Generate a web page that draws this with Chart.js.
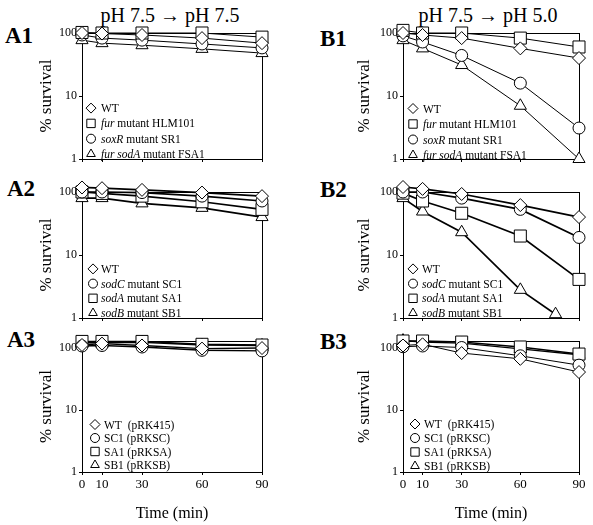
<!DOCTYPE html>
<html>
<head>
<meta charset="utf-8">
<script src="https://cdn.jsdelivr.net/npm/chart.js@4.4.1/dist/chart.umd.min.js"></script>
<style>
  body { margin: 0; background: #fff; }
  #fig { position: relative; width: 593px; height: 525px; font-family: "Liberation Serif", serif; color: #000; overflow: hidden; }
  canvas { position: absolute; }
  .lab { position: absolute; font-weight: bold; font-size: 23px; line-height: 1; }
  .ttl { position: absolute; font-size: 20px; line-height: 1; transform: translateX(-50%); white-space: nowrap; }
</style>
</head>
<body>
<div id="fig">
  <div class="ttl" style="left:170px; top:5px">pH 7.5 → pH 7.5</div>
  <div class="ttl" style="left:488px; top:5px">pH 7.5 → pH 5.0</div>
  <div class="lab" style="left:5px; top:24px">A1</div>
  <div class="lab" style="left:320px; top:27px">B1</div>
  <div class="lab" style="left:7px; top:177px">A2</div>
  <div class="lab" style="left:320px; top:178px">B2</div>
  <div class="lab" style="left:7px; top:328px">A3</div>
  <div class="lab" style="left:320px; top:330px">B3</div>
  <canvas id="a1"></canvas>
  <canvas id="b1"></canvas>
  <canvas id="a2"></canvas>
  <canvas id="b2"></canvas>
  <canvas id="a3"></canvas>
  <canvas id="b3"></canvas>
</div>
<script>
// sampling times (min) and axis ticks
const times = [0, 10, 30, 60, 90];
const timeTicks = [0, 10, 30, 60, 90];
const survivalTicks = [1, 10, 100];

// A1 : pH 7.5 -> 7.5
const a1WT = [100, 98, 93, 83, 69];
const a1Fur = [102, 100, 100, 100, 86];
const a1SoxR = [93, 83, 77, 67, 58];
const a1FurSodA = [77, 69, 64, 56, 48];
// B1 : pH 7.5 -> 5.0
const b1WT = [100, 93, 83, 57, 40];
const b1Fur = [110, 100, 100, 83, 60];
const b1SoxR = [90, 72, 44, 16, 3.1];
const b1FurSodA = [77, 57, 31, 7, 1];

// A2
const a2WT = [118, 115, 108, 98, 86];
const a2SodC = [100, 100, 98, 86, 72];
const a2SodA = [100, 95, 86, 70, 53];
const a2SodB = [80, 80, 66, 56, 40];
// B2
const b2WT = [120, 112, 93, 62, 40];
const b2SodC = [100, 100, 80, 53, 19];
const b2SodA = [96, 72, 46, 20, 4.1];
const b2SodBTimes = [0, 10, 30, 60, 78, 90];
const b2SodB = [80, 49, 23, 2.8, 1.15, 0.63];

// A3 (complemented strains)
const a3WT = [112, 118, 110, 98, 100];
const a3SC1 = [108, 110, 104, 92, 90];
const a3SA1 = [128, 128, 128, 115, 112];
const a3SB1 = [122, 122, 124, 112, 110];
// B3
const b3WT = [110, 115, 83, 67, 41];
const b3SC1 = [105, 108, 102, 75, 53];
const b3SA1 = [130, 130, 125, 104, 80];
const b3SB1 = [132, 125, 120, 97, 78];

// legend texts, [text, italic]
const legend1 = [
  [['WT', false]],
  [['fur', true], [' mutant HLM101', false]],
  [['soxR', true], [' mutant SR1', false]],
  [['fur sodA', true], [' mutant FSA1', false]]
];
const legend2 = [
  [['WT', false]],
  [['sodC', true], [' mutant SC1', false]],
  [['sodA', true], [' mutant SA1', false]],
  [['sodB', true], [' mutant SB1', false]]
];
const legend3 = [
  [['WT  (pRK415)', false]],
  [['SC1 (pRKSC)', false]],
  [['SA1 (pRKSA)', false]],
  [['SB1 (pRKSB)', false]]
];

const FONT = "'Liberation Serif', serif";
const radius = { circle: 6, rect: 8.5, rectRot: 6.5, triangle: 7 };
const legRadius = { circle: 4.5, rect: 4.2, rectRot: 5, triangle: 5 };

function drawShape(ctx, kind, x, y, r) {
  ctx.beginPath();
  if (kind === 'circle') {
    ctx.arc(x, y, r, 0, Math.PI * 2);
  } else if (kind === 'rect') {
    ctx.rect(x - r, y - r, 2 * r, 2 * r);
  } else if (kind === 'rectRot') {
    ctx.moveTo(x - r, y); ctx.lineTo(x, y - r); ctx.lineTo(x + r, y); ctx.lineTo(x, y + r);
    ctx.closePath();
  } else {
    ctx.moveTo(x, y - r); ctx.lineTo(x + r * 0.866, y + r / 2); ctx.lineTo(x - r * 0.866, y + r / 2);
    ctx.closePath();
  }
  ctx.fillStyle = '#fff'; ctx.fill();
  ctx.lineWidth = 1; ctx.strokeStyle = '#000'; ctx.stroke();
}

// frame round the plot and the in-plot legend
const boxPlugin = {
  id: 'box',
  beforeDatasetsDraw(chart) {
    const a = chart.chartArea, ctx = chart.ctx;
    ctx.save();
    ctx.strokeStyle = '#000'; ctx.lineWidth = 1;
    ctx.strokeRect(Math.round(a.left) + 0.5, Math.round(a.top) + 0.5, Math.round(a.right - a.left), Math.round(a.bottom - a.top));
    ctx.restore();
  },
  afterDraw(chart, args, o) {
    if (!o.items) return;
    const a = chart.chartArea, ctx = chart.ctx;
    const n = o.items.length;
    ctx.save();
    o.items.forEach((parts, i) => {
      const y = a.bottom - o.gap - (n - 1 - i) * o.step;
      const shp = o.shapes[i];
      drawShape(ctx, shp, a.left + o.dx, y, legRadius[shp]);
      let x = a.left + o.tx;
      ctx.fillStyle = '#000';
      ctx.textBaseline = 'middle';
      parts.forEach(([t, it]) => {
        ctx.font = (it ? 'italic ' : '') + '11.5px ' + FONT;
        ctx.fillText(t, x, y + 1);
        x += ctx.measureText(t).width;
      });
    });
    ctx.restore();
  }
};

function panel(id, pos, series, items, leg) {
  const cv = document.getElementById(id);
  cv.width = pos.w; cv.height = pos.h;
  cv.style.left = pos.x + 'px'; cv.style.top = pos.y + 'px';
  cv.style.width = pos.w + 'px'; cv.style.height = pos.h + 'px';
  const bottomRow = pos.row === 3;
  new Chart(cv, {
    type: 'line',
    data: {
      datasets: series.map(s => ({
        data: (s.t || times).map((t, i) => ({ x: t, y: s.v[i] })),
        pointStyle: s.shape,
        pointRadius: radius[s.shape],
        pointBackgroundColor: '#fff',
        pointBorderColor: '#000',
        pointBorderWidth: 1,
        borderColor: '#000',
        borderWidth: s.lw || pos.lw,
        tension: 0,
        fill: false,
        clip: s.clip !== undefined ? s.clip : false
      }))
    },
    options: {
      responsive: false,
      animation: false,
      events: [],
      layout: { padding: { left: 0, top: pos.padTop, right: pos.padRight, bottom: 0 } },
      plugins: {
        legend: { display: false },
        tooltip: { enabled: false },
        box: { items: items, shapes: series.map(s => s.shape).slice(0, 4), dx: leg.dx, tx: leg.tx, gap: leg.gap, step: leg.step }
      },
      scales: {
        x: {
          type: 'linear', min: 0, max: 90,
          afterBuildTicks: sc => { sc.ticks = timeTicks.map(v => ({ value: v })); },
          afterFit: sc => { sc.height = pos.xH; },
          border: { color: '#000', width: 1 },
          grid: { drawOnChartArea: false, tickLength: 3, color: '#000' },
          ticks: { display: bottomRow, color: '#000', font: { family: FONT, size: 13 }, padding: 2, maxRotation: 0, autoSkip: false },
          title: { display: bottomRow, text: 'Time (min)', color: '#000', font: { family: FONT, size: 16 }, padding: { top: 0, bottom: 2 } }
        },
        y: {
          type: 'logarithmic', min: 1, max: pos.ymax,
          afterBuildTicks: sc => { sc.ticks = survivalTicks.map(v => ({ value: v })); },
          afterFit: sc => { sc.width = pos.yW; },
          border: { color: '#000', width: 1 },
          grid: { drawOnChartArea: false, tickLength: 3, color: '#000' },
          ticks: { color: '#000', font: { family: FONT, size: 12 }, padding: 2, callback: v => String(v) },
          title: { display: true, text: '% survival', color: '#000', font: { family: FONT, size: 17 }, padding: { top: pos.titlePad, bottom: 0 } }
        }
      }
    },
    plugins: [boxPlugin]
  });
}

const colA = { x: 0, w: 300, yW: 82, padRight: 38, titlePad: 36 };
const colB = { x: 300, w: 293, yW: 103, padRight: 14, titlePad: 54 };
const row1 = { row: 1, y: 0, h: 170, padTop: 33, xH: 11, ymax: 100, lw: 1 };
const row2 = { row: 2, y: 170, h: 160, padTop: 22, xH: 12, ymax: 100, lw: 1.7 };
const row3 = { row: 3, y: 330, h: 195, padTop: 11, xH: 53, ymax: 130, lw: 1.4 };

panel('a1', Object.assign({}, colA, row1), [
  { v: a1WT, shape: 'rectRot' }, { v: a1Fur, shape: 'rect' },
  { v: a1SoxR, shape: 'circle' }, { v: a1FurSodA, shape: 'triangle' }
], legend1, { dx: 9, tx: 19, gap: 5, step: 15.3 });

panel('b1', Object.assign({}, colB, row1), [
  { v: b1WT, shape: 'rectRot' }, { v: b1Fur, shape: 'rect' },
  { v: b1SoxR, shape: 'circle' }, { v: b1FurSodA, shape: 'triangle' }
], legend1, { dx: 10, tx: 20, gap: 4, step: 15.5 });

panel('a2', Object.assign({}, colA, row2), [
  { v: a2WT, shape: 'rectRot' }, { v: a2SodC, shape: 'circle' },
  { v: a2SodA, shape: 'rect' }, { v: a2SodB, shape: 'triangle' }
], legend2, { dx: 11, tx: 19, gap: 5, step: 14.7 });

panel('b2', Object.assign({}, colB, row2), [
  { v: b2WT, shape: 'rectRot' }, { v: b2SodC, shape: 'circle' },
  { v: b2SodA, shape: 'rect' },
  { v: b2SodB, t: b2SodBTimes, shape: 'triangle', clip: { left: false, top: false, right: false, bottom: 1 } }
], legend2, { dx: 10, tx: 19, gap: 5, step: 14.7 });

panel('a3', Object.assign({}, colA, row3), [
  { v: a3WT, shape: 'rectRot' }, { v: a3SC1, shape: 'circle' },
  { v: a3SA1, shape: 'rect' }, { v: a3SB1, shape: 'triangle' }
], legend3, { dx: 13, tx: 22, gap: 7, step: 13.5 });

panel('b3', Object.assign({}, colB, row3), [
  { v: b3WT, shape: 'rectRot', lw: 1 }, { v: b3SC1, shape: 'circle', lw: 1 },
  { v: b3SA1, shape: 'rect' }, { v: b3SB1, shape: 'triangle' }
], legend3, { dx: 12, tx: 21, gap: 6, step: 14 });
</script>
</body>
</html>
